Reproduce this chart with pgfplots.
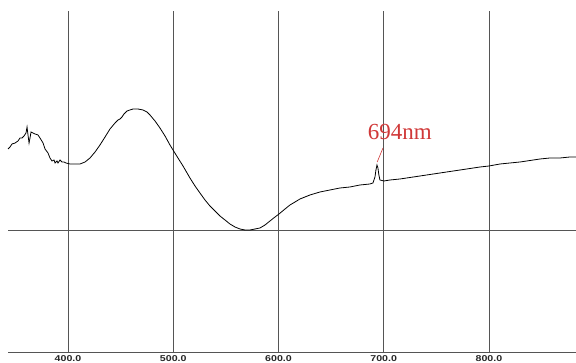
\documentclass[border=0pt]{standalone}
\usepackage{fontspec}
\setmainfont{Liberation Serif}
\newfontfamily\tickfont[FakeStretch=1.25]{Liberation Sans}
\usepackage{pgfplots}
\pgfplotsset{compat=1.18}
\definecolor{gridc}{HTML}{555555}
\definecolor{annot}{HTML}{D03838}
\begin{document}
\begin{tikzpicture}
\useasboundingbox (0,0) rectangle (576bp,363bp);
\begin{axis}[
  at={(8bp,11bp)}, anchor=south west,
  scale only axis, width=568bp, height=341bp,
  xmin=343, xmax=882.7, ymin=-1.22, ymax=2.19,
  axis x line=bottom, axis y line=left,
  x axis line style={-, draw=gridc, line width=0.9pt},
  y axis line style={draw=none},
  xtick={400,500,600,700,800},
  xticklabels={400.0,500.0,600.0,700.0,800.0},
  xticklabel style={font=\tickfont\bfseries\fontsize{8.5bp}{9bp}\selectfont, inner sep=1.5bp, text=black!85},
  ytick={0}, yticklabels={},
  tick style={draw=none},
  xmajorgrids, ymajorgrids,
  grid style={draw=gridc, line width=0.9pt},
  clip=false,
]
\addplot[black, line width=0.8pt] coordinates {
(343.0,0.81)(344.9,0.83)(346.8,0.86)(349.7,0.87)(352.5,0.89)(354.4,0.92)(356.3,0.92)(358.2,0.94)(360.1,0.97)(361.1,1.03)(362.0,0.95)(363.0,0.87)(363.9,0.92)(364.9,0.98)(366.8,0.97)(368.7,0.96)(371.5,0.95)(373.4,0.92)(376.3,0.87)(378.2,0.81)(381.0,0.77)(382.9,0.72)(384.8,0.69)(386.7,0.70)(387.7,0.67)(389.6,0.69)(390.5,0.67)(392.4,0.70)(394.3,0.68)(396.2,0.68)(398.1,0.67)(401.9,0.66)(406.7,0.66)(411.4,0.66)(416.2,0.68)(420.9,0.72)(425.7,0.78)(430.4,0.85)(435.2,0.93)(439.9,1.01)(444.7,1.07)(447.5,1.10)(449.4,1.11)(451.3,1.13)(453.2,1.16)(456.1,1.19)(458.9,1.20)(461.8,1.21)(466.5,1.21)(471.3,1.20)(475.1,1.18)(477.9,1.15)(482.7,1.09)(487.4,1.02)(492.2,0.94)(496.9,0.85)(499.8,0.80)(504.5,0.72)(509.3,0.64)(515.9,0.52)(520.7,0.44)(525.4,0.37)(530.2,0.30)(534.9,0.24)(539.7,0.19)(544.4,0.14)(549.2,0.10)(553.9,0.06)(558.7,0.03)(563.4,0.01)(568.2,0.00)(572.9,0.00)(577.7,0.01)(582.4,0.02)(587.2,0.05)(591.9,0.09)(596.7,0.13)(600.5,0.16)(606.2,0.21)(610.9,0.25)(615.7,0.28)(620.4,0.31)(629.9,0.35)(639.4,0.38)(648.9,0.40)(658.4,0.42)(667.9,0.43)(677.4,0.45)(686.9,0.46)(689.8,0.47)(691.7,0.53)(692.6,0.60)(693.6,0.65)(694.5,0.62)(695.4,0.55)(696.4,0.50)(700.2,0.49)(705.9,0.50)(715.4,0.51)(734.4,0.54)(753.4,0.57)(772.5,0.60)(791.5,0.63)(800.0,0.64)(810.5,0.66)(829.5,0.68)(848.5,0.71)(858.0,0.72)(867.5,0.72)(877.0,0.73)(882.7,0.73)
};
\draw[annot, line width=0.6pt] (axis cs:699.3,0.82) -- (axis cs:693.8,0.68);
\node[annot, font=\fontsize{23bp}{25bp}\selectfont] at (axis cs:715.4,0.98) {694nm};
\end{axis}
\end{tikzpicture}
\end{document}
